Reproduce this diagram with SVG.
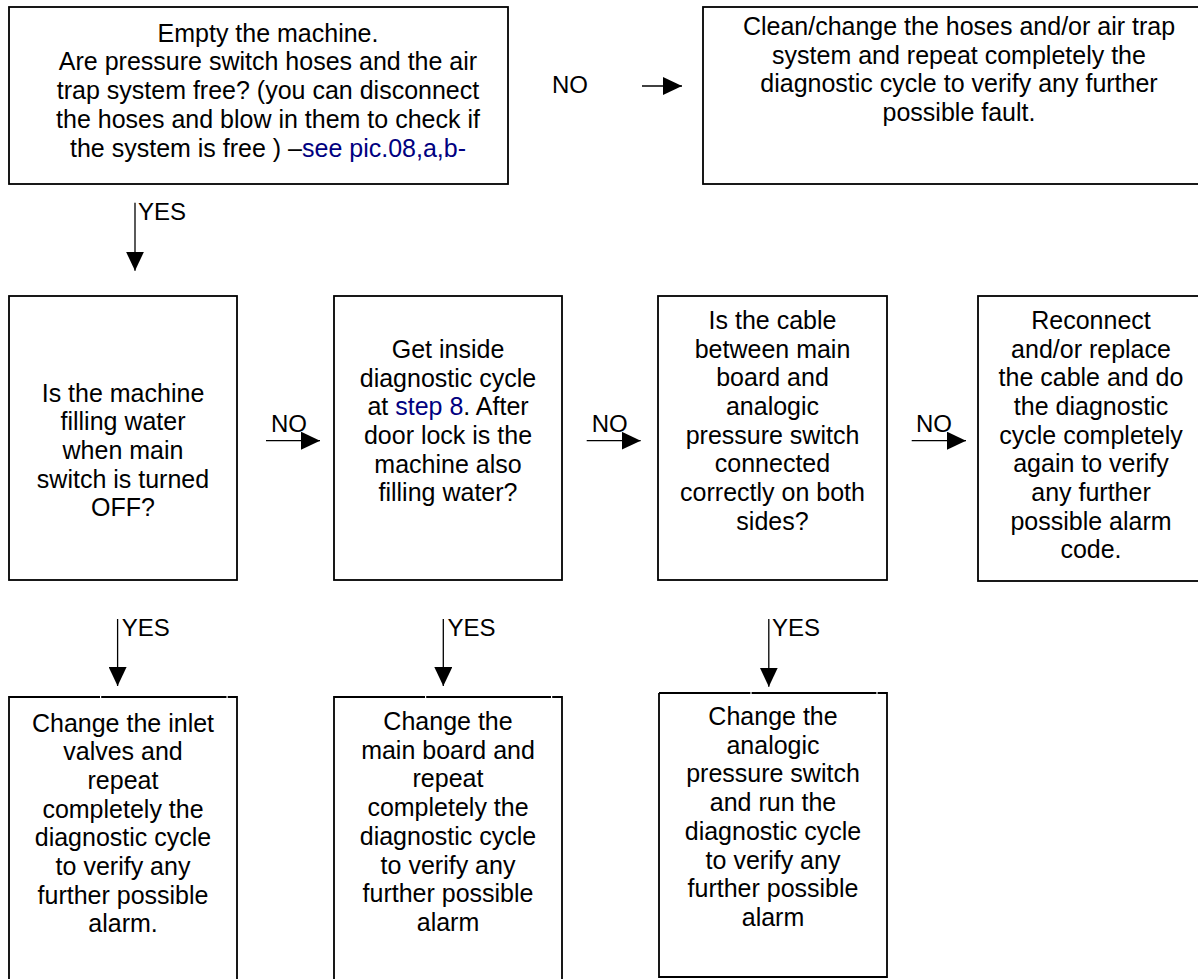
<svg xmlns="http://www.w3.org/2000/svg" width="1198" height="979" viewBox="0 0 1198 979">
<style>
.box{fill:#fff;stroke:#000;stroke-width:1.8}
.open{fill:none;stroke:#000;stroke-width:1.8}
.t{font-family:"Liberation Sans",Arial,sans-serif;font-size:25px;fill:#000;text-anchor:middle}
.lbl{font-family:"Liberation Sans",Arial,sans-serif;font-size:24px;fill:#000}
.lnk{fill:#000080}
.c{stroke:#000;stroke-width:1.3;fill:none;marker-end:url(#ah)}
</style>
<defs>
<marker id="ah" viewBox="0 0 19 18" refX="19" refY="9" markerWidth="19" markerHeight="18" markerUnits="userSpaceOnUse" orient="auto">
<path d="M0,0 L19,9 L0,18 Z" fill="#000"/>
</marker>
</defs>
<rect width="1198" height="979" fill="#fff"/>

<g id="n1">
<rect class="box" x="9" y="7" width="499" height="177"/>
<text class="t"><tspan x="268" y="41.7">Empty the machine.</tspan><tspan x="268" y="70.4">Are pressure switch hoses and the air</tspan><tspan x="268" y="99.1">trap system free? (you can disconnect</tspan><tspan x="268" y="127.8">the hoses and blow in them to check if</tspan><tspan x="268" y="156.5">the system is free ) –<tspan class="lnk">see pic.08,a,b-</tspan></tspan></text>
</g>

<g id="n2">
<rect class="box" x="703" y="7" width="510" height="177"/>
<text class="t"><tspan x="959" y="35">Clean/change the hoses and/or air trap</tspan><tspan x="959" y="63.7">system and repeat completely the</tspan><tspan x="959" y="92.4">diagnostic cycle to verify any further</tspan><tspan x="959" y="121.1">possible fault.</tspan></text>
</g>

<g id="n3">
<rect class="box" x="9" y="296" width="228" height="284"/>
<text class="t"><tspan x="123" y="401.5">Is the machine</tspan><tspan x="123" y="430.2">filling water</tspan><tspan x="123" y="458.9">when main</tspan><tspan x="123" y="487.6">switch is turned</tspan><tspan x="123" y="516.3">OFF?</tspan></text>
</g>

<g id="n4">
<rect class="box" x="334" y="296" width="228" height="284"/>
<text class="t"><tspan x="448" y="357.8">Get inside</tspan><tspan x="448" y="386.5">diagnostic cycle</tspan><tspan x="448" y="415.2">at <tspan class="lnk">step 8</tspan>. After</tspan><tspan x="448" y="443.9">door lock is the</tspan><tspan x="448" y="472.6">machine also</tspan><tspan x="448" y="501.3">filling water?</tspan></text>
</g>

<g id="n5">
<rect class="box" x="658" y="296" width="229" height="284"/>
<text class="t"><tspan x="772.5" y="328.8">Is the cable</tspan><tspan x="772.5" y="357.5">between main</tspan><tspan x="772.5" y="386.2">board and</tspan><tspan x="772.5" y="414.9">analogic</tspan><tspan x="772.5" y="443.6">pressure switch</tspan><tspan x="772.5" y="472.3">connected</tspan><tspan x="772.5" y="501">correctly on both</tspan><tspan x="772.5" y="529.7">sides?</tspan></text>
</g>

<g id="n6">
<rect class="box" x="978" y="296" width="240" height="285"/>
<text class="t"><tspan x="1091" y="328.8">Reconnect</tspan><tspan x="1091" y="357.5">and/or replace</tspan><tspan x="1091" y="386.2">the cable and do</tspan><tspan x="1091" y="414.9">the diagnostic</tspan><tspan x="1091" y="443.6">cycle completely</tspan><tspan x="1091" y="472.3">again to verify</tspan><tspan x="1091" y="501">any further</tspan><tspan x="1091" y="529.7">possible alarm</tspan><tspan x="1091" y="558.4">code.</tspan></text>
</g>

<g id="n7">
<path class="open" d="M9,1000 V697 H100 M101.2,697 H226.5 M227.7,697 H237 V1000"/>
<text class="t"><tspan x="123" y="731.5">Change the inlet</tspan><tspan x="123" y="760.2">valves and</tspan><tspan x="123" y="788.9">repeat</tspan><tspan x="123" y="817.6">completely the</tspan><tspan x="123" y="846.3">diagnostic cycle</tspan><tspan x="123" y="875">to verify any</tspan><tspan x="123" y="903.7">further possible</tspan><tspan x="123" y="932.4">alarm.</tspan></text>
</g>

<g id="n8">
<path class="open" d="M334,1000 V697 H425 M426.2,697 H551 M552.2,697 H562 V1000"/>
<text class="t"><tspan x="448" y="730">Change the</tspan><tspan x="448" y="758.7">main board and</tspan><tspan x="448" y="787.4">repeat</tspan><tspan x="448" y="816.1">completely the</tspan><tspan x="448" y="844.8">diagnostic cycle</tspan><tspan x="448" y="873.5">to verify any</tspan><tspan x="448" y="902.2">further possible</tspan><tspan x="448" y="930.9">alarm</tspan></text>
</g>

<g id="n9">
<path class="open" d="M659,693 V977 H887 V693 H877.6 M876.4,693 H751.6 M750.4,693 H659"/>
<text class="t"><tspan x="773" y="725">Change the</tspan><tspan x="773" y="753.7">analogic</tspan><tspan x="773" y="782.4">pressure switch</tspan><tspan x="773" y="811.1">and run the</tspan><tspan x="773" y="839.8">diagnostic cycle</tspan><tspan x="773" y="868.5">to verify any</tspan><tspan x="773" y="897.2">further possible</tspan><tspan x="773" y="925.9">alarm</tspan></text>
</g>

<g id="connectors">
<line class="c" x1="642" y1="86" x2="682" y2="86"/>
<text class="lbl" x="552" y="93.3">NO</text>
<line class="c" x1="135" y1="202.7" x2="135" y2="270.7"/>
<text class="lbl" x="138" y="220">YES</text>
<line class="c" x1="266" y1="440.7" x2="320" y2="440.7"/>
<text class="lbl" x="271" y="431.5">NO</text>
<line class="c" x1="586.7" y1="440.7" x2="640.7" y2="440.7"/>
<text class="lbl" x="591.7" y="431.5">NO</text>
<line class="c" x1="911.7" y1="440.7" x2="966" y2="440.7"/>
<text class="lbl" x="916" y="431.5">NO</text>
<line class="c" x1="117.6" y1="619" x2="117.6" y2="686"/>
<text class="lbl" x="121.8" y="636">YES</text>
<line class="c" x1="443.3" y1="619" x2="443.3" y2="686"/>
<text class="lbl" x="447.5" y="636">YES</text>
<line class="c" x1="768.8" y1="619" x2="768.8" y2="686.7"/>
<text class="lbl" x="772" y="636">YES</text>
</g>
</svg>
